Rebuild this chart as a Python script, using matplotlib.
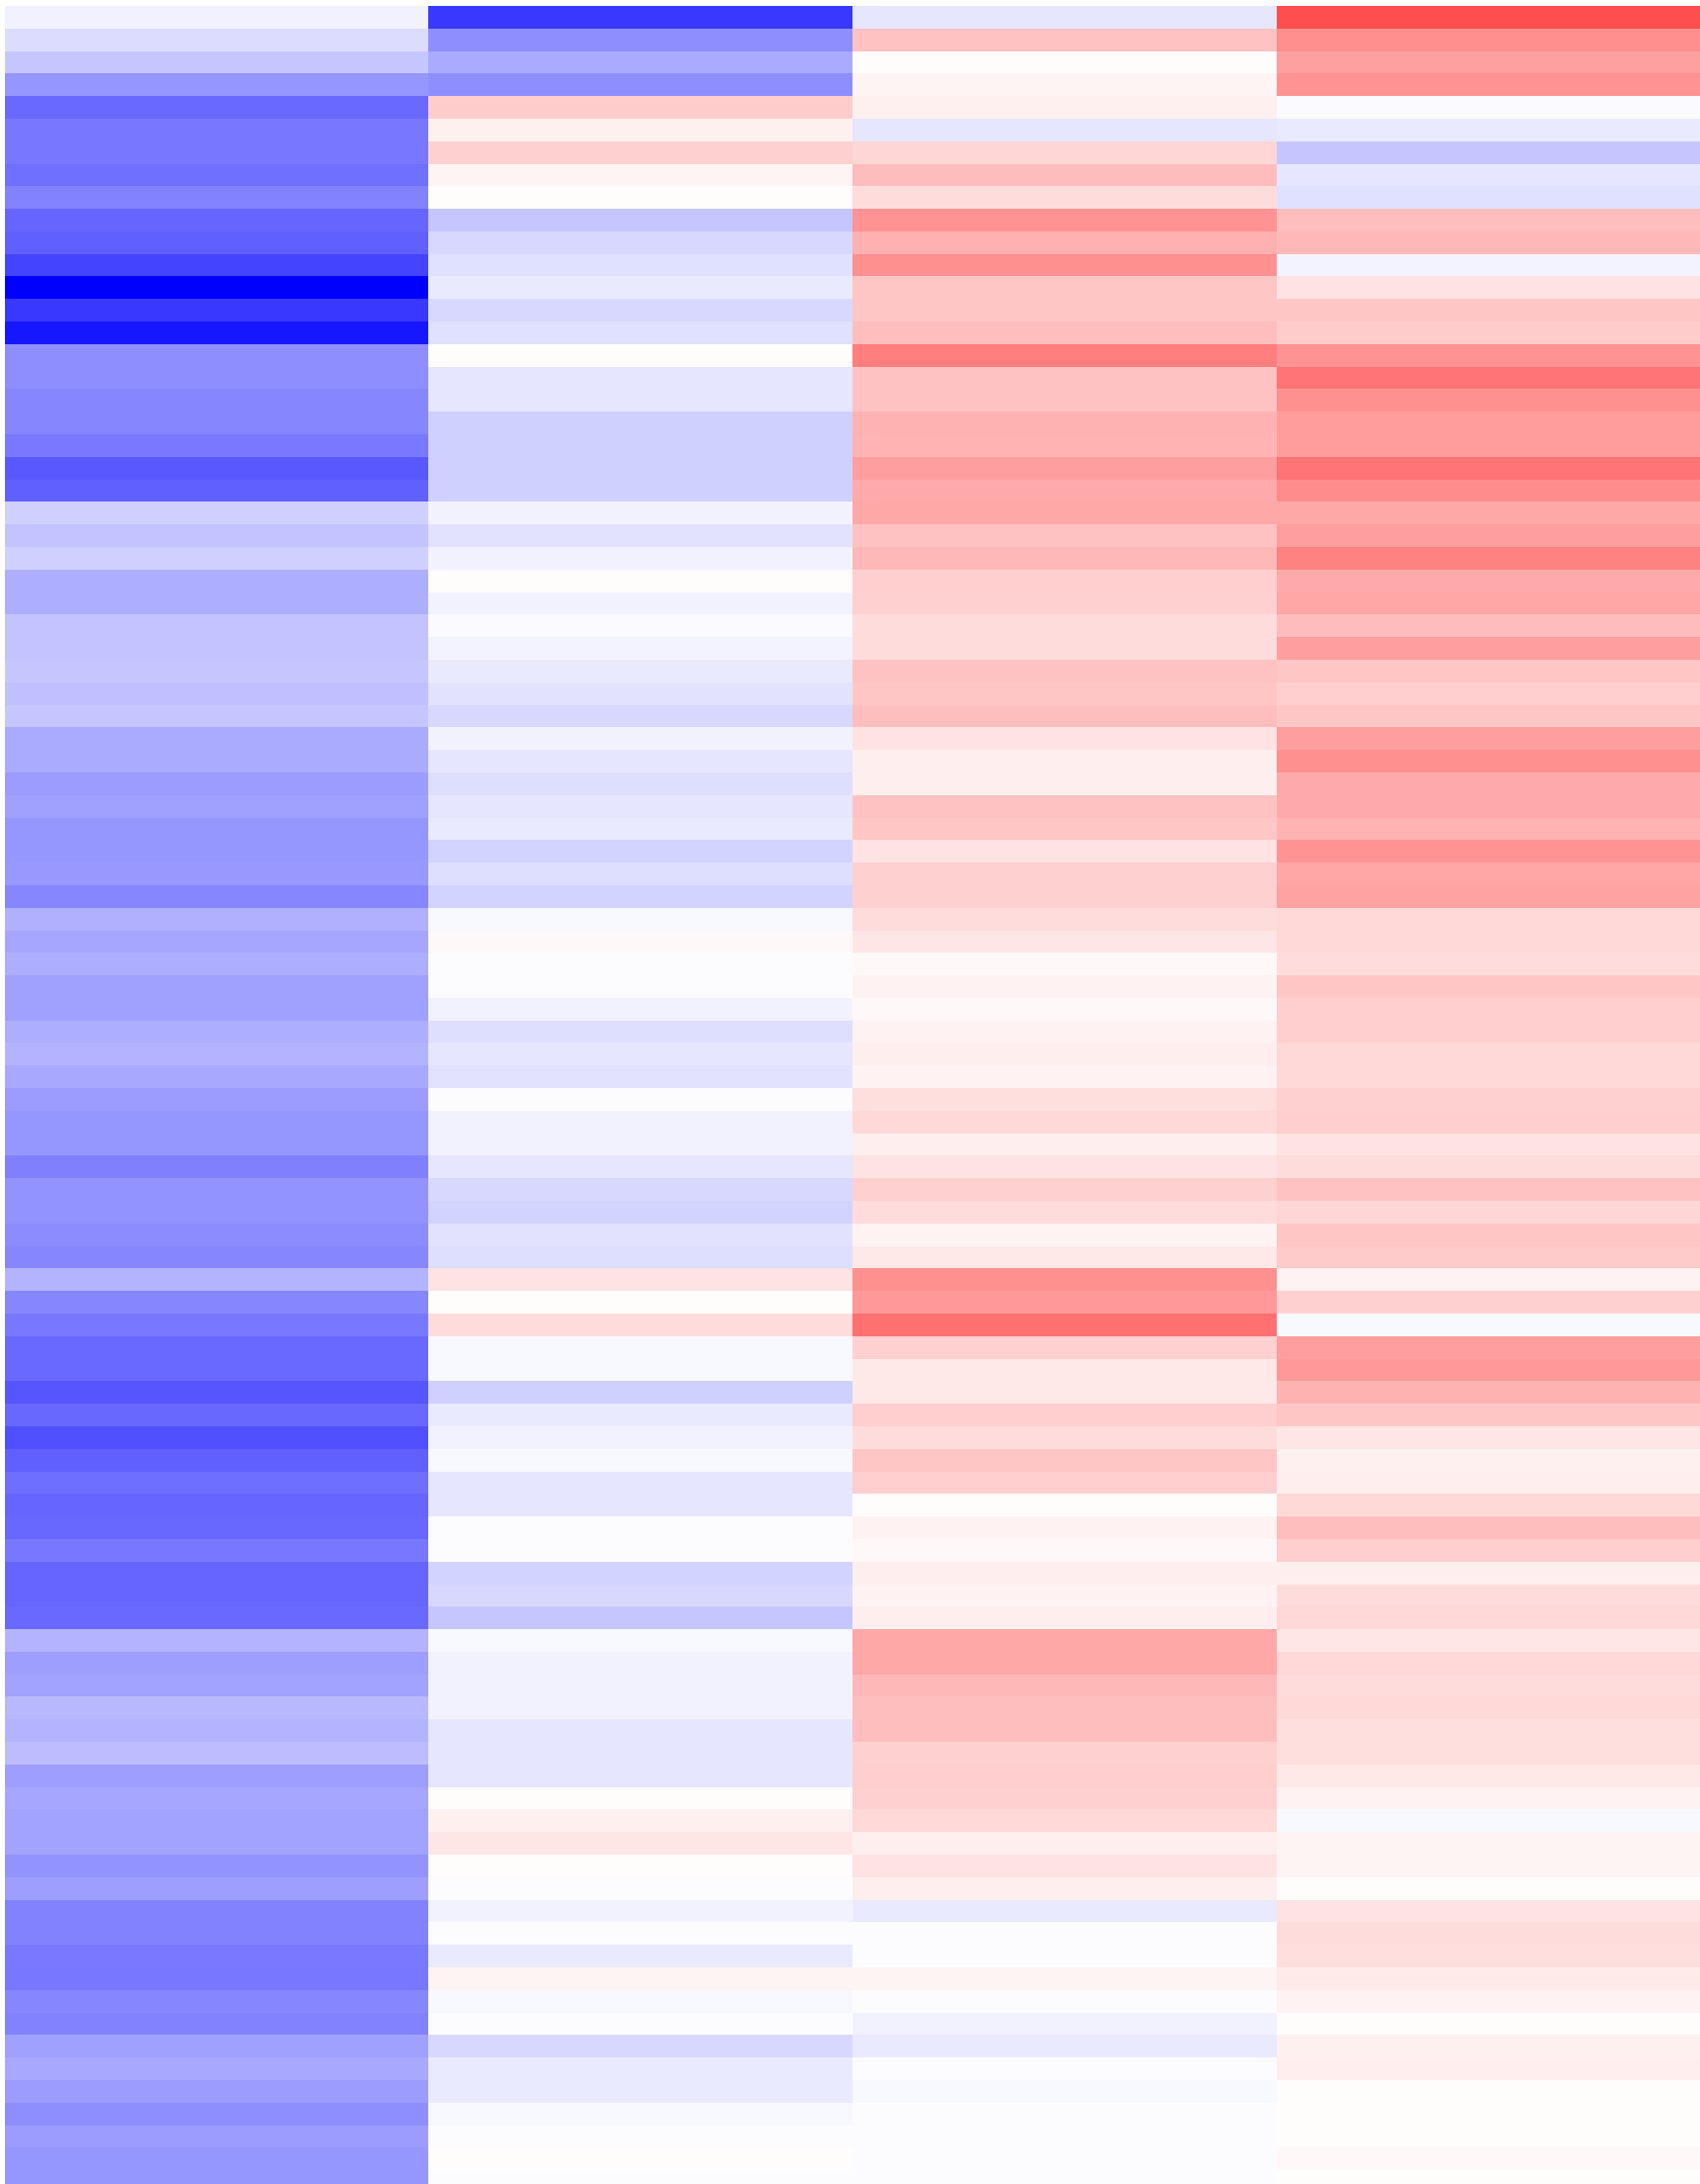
import matplotlib
matplotlib.use("Agg")
import matplotlib.pyplot as plt
import numpy as np

col_1 = [-0.05,-0.14,-0.22,-0.41,-0.58,-0.53,-0.53,-0.56,-0.49,-0.60,-0.62,-0.73,-1.00,-0.78,-0.91,-0.44,
         -0.44,-0.47,-0.47,-0.52,-0.65,-0.62,-0.18,-0.23,-0.18,-0.32,-0.32,-0.23,-0.23,-0.22,-0.25,-0.22,
         -0.33,-0.33,-0.39,-0.37,-0.41,-0.41,-0.40,-0.47,-0.31,-0.35,-0.32,-0.37,-0.37,-0.32,-0.29,-0.34,
         -0.39,-0.41,-0.41,-0.50,-0.42,-0.42,-0.45,-0.47,-0.29,-0.47,-0.53,-0.58,-0.58,-0.66,-0.59,-0.68,
         -0.62,-0.57,-0.60,-0.59,-0.53,-0.60,-0.60,-0.58,-0.29,-0.38,-0.36,-0.28,-0.29,-0.26,-0.38,-0.35,
         -0.36,-0.36,-0.42,-0.38,-0.49,-0.49,-0.52,-0.53,-0.47,-0.49,-0.37,-0.34,-0.39,-0.44,-0.39,-0.41,-0.41]
col_2 = [-0.78,-0.44,-0.33,-0.44,0.20,0.06,0.18,0.04,0.01,-0.22,-0.15,-0.12,-0.08,-0.15,-0.12,0.01,
         -0.10,-0.10,-0.18,-0.18,-0.18,-0.18,-0.05,-0.11,-0.05,0.01,-0.05,-0.02,-0.04,-0.08,-0.11,-0.15,
         -0.05,-0.10,-0.13,-0.10,-0.08,-0.17,-0.13,-0.17,-0.03,0.03,-0.01,-0.01,-0.05,-0.13,-0.10,-0.11,
         -0.01,-0.05,-0.05,-0.10,-0.15,-0.17,-0.11,-0.13,0.11,0.01,0.14,-0.03,-0.03,-0.18,-0.08,-0.05,
         -0.03,-0.10,-0.10,-0.01,-0.01,-0.17,-0.15,-0.22,-0.03,-0.05,-0.05,-0.05,-0.10,-0.10,-0.10,0.01,
         0.06,0.10,0.01,-0.01,-0.05,-0.01,-0.08,0.04,-0.03,-0.01,-0.15,-0.08,-0.08,-0.03,-0.01,0.01,-0.01]
col_3 = [-0.10,0.24,0.01,0.04,0.06,-0.10,0.16,0.26,0.14,0.42,0.31,0.43,0.22,0.22,0.25,0.50,
         0.24,0.24,0.30,0.29,0.38,0.33,0.34,0.24,0.28,0.19,0.18,0.14,0.14,0.24,0.22,0.25,
         0.11,0.07,0.07,0.24,0.22,0.11,0.18,0.18,0.14,0.10,0.03,0.05,0.03,0.05,0.07,0.05,
         0.13,0.15,0.07,0.11,0.18,0.14,0.05,0.09,0.43,0.40,0.56,0.18,0.09,0.09,0.19,0.14,
         0.22,0.19,0.01,0.05,0.03,0.07,0.05,0.07,0.34,0.34,0.28,0.25,0.25,0.18,0.19,0.18,
         0.15,0.07,0.11,0.07,-0.08,-0.01,-0.01,0.04,-0.01,-0.05,-0.08,-0.01,-0.03,-0.01,-0.01,-0.01,-0.01]
col_4 = [0.69,0.44,0.37,0.42,-0.02,-0.08,-0.22,-0.10,-0.12,0.25,0.28,-0.04,0.11,0.22,0.20,0.42,
         0.54,0.43,0.39,0.39,0.54,0.45,0.34,0.38,0.49,0.33,0.35,0.26,0.38,0.22,0.19,0.22,
         0.38,0.43,0.33,0.33,0.29,0.42,0.35,0.36,0.15,0.15,0.14,0.22,0.19,0.19,0.15,0.15,
         0.18,0.19,0.11,0.14,0.24,0.16,0.22,0.21,0.05,0.18,-0.03,0.38,0.40,0.30,0.22,0.10,
         0.06,0.07,0.15,0.25,0.19,0.07,0.14,0.15,0.10,0.15,0.14,0.15,0.13,0.13,0.09,0.05,
         -0.03,0.04,0.04,0.01,0.11,0.14,0.13,0.08,0.05,0.01,0.06,0.07,0.01,0.01,0.01,0.03,0.01]

W, H = 1719, 2208
values = np.array([col_1, col_2, col_3, col_4]).T

fig = plt.figure(figsize=(W / 100, H / 100), dpi=100, facecolor="white")
top_px, row_px, left_px = 6.0, 22.79, 5.0
n_rows = values.shape[0]
height_px = row_px * n_rows
ax = fig.add_axes([left_px / W, 1 - (top_px + height_px) / H, (W - left_px) / W, height_px / H])
ax.imshow(values, cmap="bwr", vmin=-1, vmax=1, aspect="auto", interpolation="nearest")
ax.axis("off")
fig.savefig("out.png", dpi=100)
